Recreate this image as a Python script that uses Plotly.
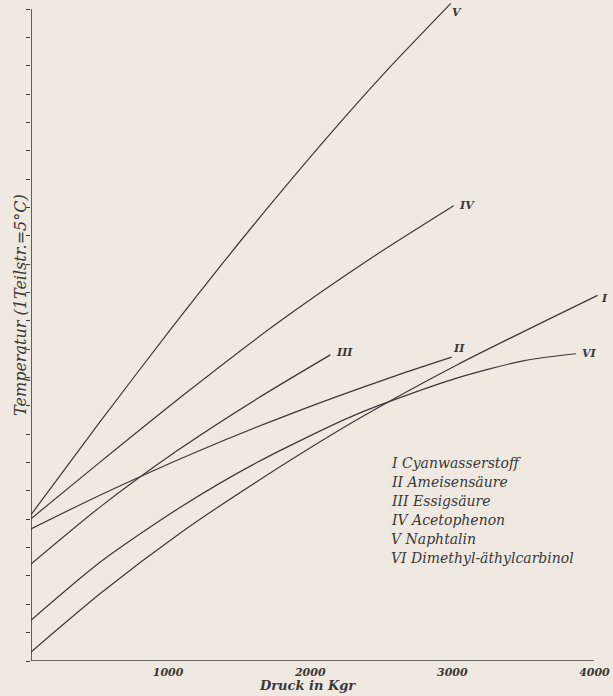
import plotly.graph_objects as go

# ---- data (pressure in kg, temperature in °C above the chart origin; 1 Teilstrich = 5 °C)
labels = ["I", "II", "III", "IV", "V", "VI"]
names = ["Cyanwasserstoff", "Ameisensäure", "Essigsäure", "Acetophenon",
         "Naphtalin", "Dimethyl-äthylcarbinol"]

press_I = [0, 494, 1046, 1599, 2290, 3003, 3987]
temp_I = [1.6, 12.05, 22.5, 31.8, 42.5, 52.3, 64.5]

press_II = [0, 481, 1175, 1869, 2564, 2960]
temp_II = [23.3, 29.2, 37.0, 44.0, 50.3, 53.6]

press_III = [0, 483, 1035, 1587, 2106]
temp_III = [17.1, 27.1, 37.2, 46.2, 54.0]

press_IV = [0, 477, 1097, 1717, 2408, 2974]
temp_IV = [25.1, 34.9, 47.4, 59.3, 71.3, 80.3]

press_V = [0, 472, 997, 1359, 1700, 2159, 2501, 2954]
temp_V = [25.8, 41.75, 58.97, 70.48, 80.98, 94.52, 104.1, 116.0]

press_VI = [0, 490, 1043, 1596, 2289, 2984, 3471, 3834]
temp_VI = [7.2, 17.5, 27.0, 35.1, 43.5, 49.8, 53.0, 54.2]

x_ticks = [1000, 2000, 3000, 4000]
x_tick_text = ["1000", "2000", "3000", "4000"]

series = [
    (press_I, temp_I), (press_II, temp_II), (press_III, temp_III),
    (press_IV, temp_IV), (press_V, temp_V), (press_VI, temp_VI),
]

INK = "#3b3836"
BG = "#efe9e2"
FONT = "DejaVu Serif"

fig = go.Figure()
for lab, (xs, ys) in zip(labels, series):
    fig.add_trace(go.Scatter(
        x=xs, y=ys, mode="lines", name=lab,
        line=dict(color=INK, width=1.2, shape="spline", smoothing=0.7),
        hoverinfo="skip", showlegend=False,
    ))

# end labels of curves
end_shift = {"I": (1, -3), "II": (-1, 9), "III": (4, 2), "IV": (3, 0), "V": (-1, -9), "VI": (4, 0)}
for lab, (xs, ys) in zip(labels, series):
    dx, dy = end_shift[lab]
    fig.add_annotation(
        x=xs[-1], y=ys[-1], text=lab, showarrow=False,
        xshift=dx, yshift=dy, xanchor="left", yanchor="middle",
        font=dict(family=FONT, size=11, color=INK, style="italic", weight="bold"),
    )

# legend block as text
for i, (lab, nm) in enumerate(zip(labels, names)):
    fig.add_annotation(
        xref="paper", yref="paper", x=0.62, y=0.299 - i * 0.0287,
        text=f"{lab} {nm}", showarrow=False, xanchor="left", yanchor="middle",
        font=dict(family=FONT, size=14, color=INK, style="italic"),
    )

# axis lines
fig.add_shape(type="line", x0=0, y0=0, x1=3960, y1=0, xref="x", yref="y",
              line=dict(color=INK, width=1.6))
fig.add_shape(type="line", x0=0, y0=0, x1=0, y1=115, xref="x", yref="y",
              line=dict(color=INK, width=1.6))

# axis titles
fig.add_annotation(
    xref="paper", yref="paper", x=0.48, y=-0.037, text="Druck in Kgr",
    showarrow=False, xanchor="center", yanchor="middle",
    font=dict(family=FONT, size=13, color=INK, style="italic", weight="bold"),
)
fig.add_annotation(
    xref="paper", yref="paper", x=-0.017, y=0.539,
    text="Temperatur (1Teilstr.=5°C)", textangle=-90,
    showarrow=False, xanchor="center", yanchor="middle",
    font=dict(family=FONT, size=16, color=INK, style="italic"),
)

fig.update_xaxes(
    range=[0, 4060], showgrid=False, zeroline=False, showline=False,
    tickvals=x_ticks, ticktext=x_tick_text, ticks="", automargin=False,
    ticklabeloverflow="allow", ticklabelstandoff=3, ticklabelshift=-5,
    tickfont=dict(family=FONT, size=11, color=INK, style="italic", weight="bold"),
)
fig.update_yaxes(
    range=[0, 116.6], showgrid=False, zeroline=False, showline=False,
    tick0=0, dtick=5, ticks="outside", ticklen=4, tickwidth=1.2, tickcolor=INK,
    showticklabels=False, automargin=False,
)
fig.update_layout(
    width=613, height=696,
    margin=dict(l=31, r=5, t=0, b=35, autoexpand=False),
    paper_bgcolor=BG, plot_bgcolor=BG,
)

fig.write_html(
    "out.html",
    config={"displayModeBar": False},
    post_script="document.body.style.margin='0';document.body.style.background='%s';" % BG,
)
